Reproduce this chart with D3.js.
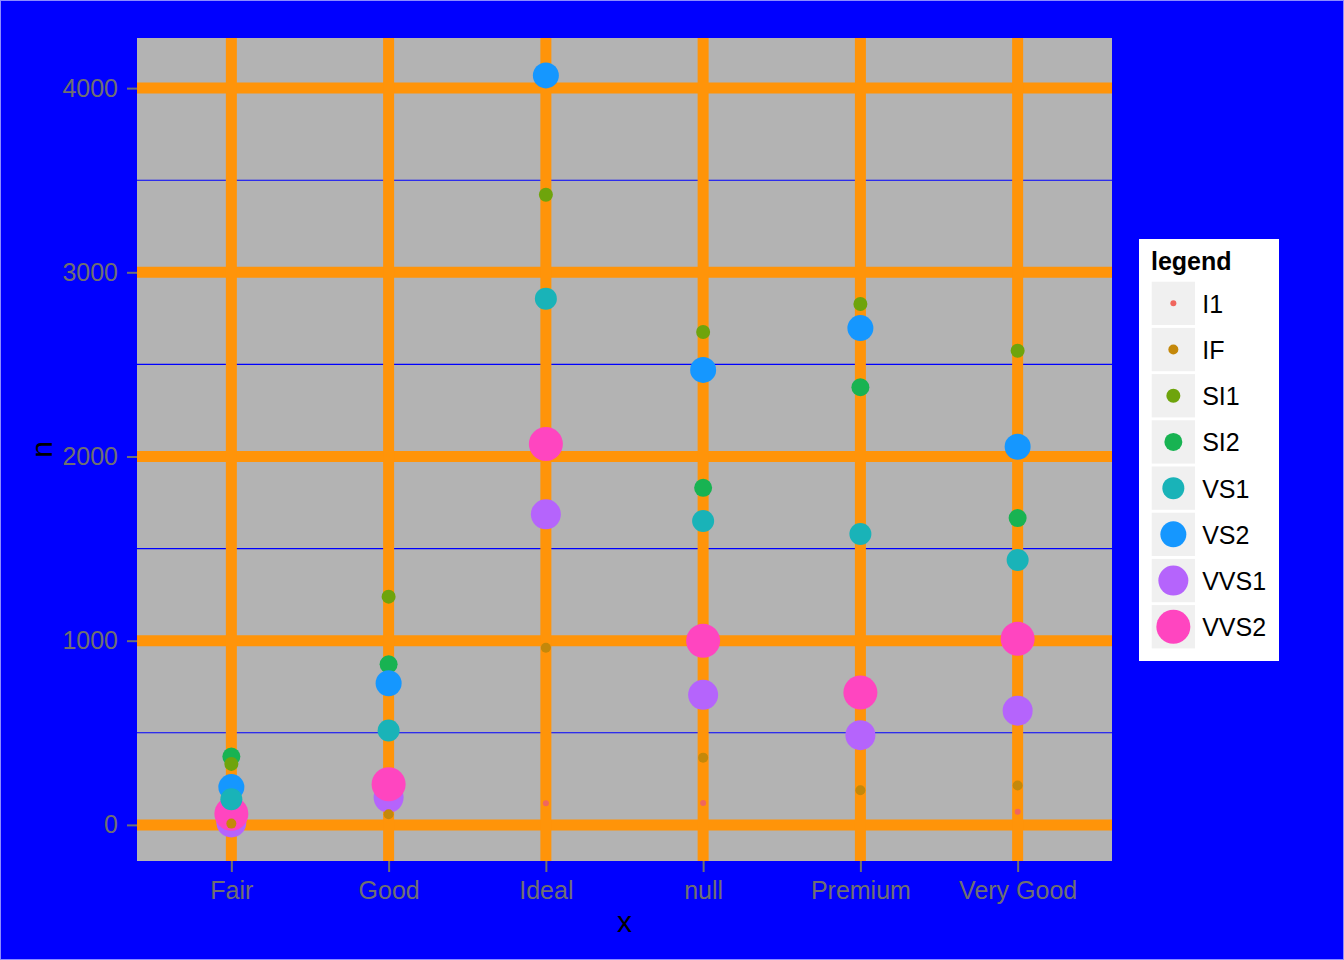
<!DOCTYPE html>
<html>
<head>
<meta charset="utf-8">
<script src="https://cdn.jsdelivr.net/npm/d3@7"></script>
<style>
  html, body { margin: 0; padding: 0; background: #0000ff; }
  svg { display: block; }
  text { font-family: "Liberation Sans", Arial, Helvetica, sans-serif; }
</style>
</head>
<body>
<svg id="chart" width="1344" height="960"></svg>
<script>
// ---- data ----
const cuts = ["Fair", "Good", "Ideal", "null", "Premium", "Very Good"];
const clarities = ["I1", "IF", "SI1", "SI2", "VS1", "VS2", "VVS1", "VVS2"];
// counts per cut (same order as cuts)
const nI1   = [168,   77,  118,  119,  180,   71];
const nIF   = [  7,   58,  962,  365,  188,  214];
const nSI1  = [331, 1239, 3421, 2676, 2828, 2574];
const nSI2  = [371,  872, 2078, 1830, 2376, 1666];
const nVS1  = [139,  512, 2857, 1650, 1579, 1438];
const nVS2  = [205,  769, 4069, 2470, 2697, 2053];
const nVVS1 = [ 13,  148, 1686,  706,  487,  620];
const nVVS2 = [ 60,  221, 2068,  999,  719, 1010];
const yTicks = [0, 1000, 2000, 3000, 4000];
const yMinorTicks = [500, 1500, 2500, 3500];
const drawOrder = ["I1", "SI2", "SI1", "VS2", "VVS1", "VVS2", "VS1", "IF"];
const colours = ["#f0665e", "#c4880a", "#6ea40c", "#18b352", "#19b3b8", "#1597ff", "#b564fc", "#ff45c0"];

const seriesByClarity = {I1: nI1, IF: nIF, SI1: nSI1, SI2: nSI2, VS1: nVS1, VS2: nVS2, VVS1: nVVS1, VVS2: nVVS2};
const rows = [];
drawOrder.forEach(c => cuts.forEach((cut, i) => rows.push({cut, clarity: c, n: seriesByClarity[c][i]})));

// ---- layout ----
const W = 1344, H = 960;
const P = {left: 137, right: 1112, top: 38, bottom: 861};
const svg = d3.select("#chart");

svg.append("rect").attr("x", 0.5).attr("y", 0.5).attr("width", W - 1).attr("height", H - 1)
  .attr("fill", "#0000ff").attr("stroke", "#8c8cff").attr("stroke-width", 1);

const x = d3.scalePoint().domain(cuts).range([P.left, P.right]).padding(0.6);
const allN = rows.map(d => d.n);
const lo = d3.min(allN), hi = d3.max(allN), span = hi - lo;
const y = d3.scaleLinear().domain([lo - 0.05 * span, hi + 0.05 * span]).range([P.bottom, P.top]);
const colour = d3.scaleOrdinal().domain(clarities).range(colours);
const radius = d3.scalePoint().domain(clarities).range([3, 17]);

// panel
svg.append("defs").append("clipPath").attr("id", "clip")
  .append("rect").attr("x", P.left).attr("y", P.top).attr("width", P.right - P.left).attr("height", P.bottom - P.top);
svg.append("rect").attr("x", P.left).attr("y", P.top).attr("width", P.right - P.left).attr("height", P.bottom - P.top)
  .attr("fill", "#b3b3b3");

const grid = svg.append("g").attr("clip-path", "url(#clip)");
grid.selectAll("line.minor").data(yMinorTicks).join("line").attr("class", "minor")
  .attr("x1", P.left).attr("x2", P.right).attr("y1", d => y(d)).attr("y2", d => y(d))
  .attr("stroke", "#0000ff").attr("stroke-width", 1.1);
grid.selectAll("line.majy").data(yTicks).join("line").attr("class", "majy")
  .attr("x1", P.left).attr("x2", P.right).attr("y1", d => y(d)).attr("y2", d => y(d))
  .attr("stroke", "#ff9409").attr("stroke-width", 11);
grid.selectAll("line.majx").data(cuts).join("line").attr("class", "majx")
  .attr("x1", d => x(d)).attr("x2", d => x(d)).attr("y1", P.top).attr("y2", P.bottom)
  .attr("stroke", "#ff9409").attr("stroke-width", 11);

// points
svg.append("g").attr("clip-path", "url(#clip)").selectAll("circle").data(rows).join("circle")
  .attr("cx", d => x(d.cut)).attr("cy", d => y(d.n)).attr("r", d => radius(d.clarity))
  .attr("fill", d => colour(d.clarity));

// axes
const tickCol = "#707070";
const yAxis = svg.append("g").attr("transform", `translate(${P.left},0)`)
  .call(d3.axisLeft(y).tickValues(yTicks).tickSize(10).tickPadding(9).tickFormat(d3.format("d")));
const xAxis = svg.append("g").attr("transform", `translate(0,${P.bottom})`)
  .call(d3.axisBottom(x).tickSize(11).tickPadding(9));
[yAxis, xAxis].forEach(a => {
  a.select(".domain").remove();
  a.selectAll(".tick line").attr("stroke", tickCol).attr("stroke-width", 2);
  a.selectAll(".tick text").attr("fill", tickCol).attr("font-size", 25)
    .attr("font-family", "Liberation Sans, Arial, sans-serif");
});

svg.append("text").attr("x", (P.left + P.right) / 2).attr("y", 932).attr("text-anchor", "middle")
  .attr("font-size", 30).attr("fill", "#000").text("x");
svg.append("text").attr("transform", `translate(52,${(P.top + P.bottom) / 2}) rotate(-90)`)
  .attr("text-anchor", "middle").attr("font-size", 30).attr("fill", "#000").text("n");

// legend
const L = {x: 1139, y: 239, w: 140, h: 422};
const lg = svg.append("g");
lg.append("rect").attr("x", L.x).attr("y", L.y).attr("width", L.w).attr("height", L.h).attr("fill", "#ffffff");
lg.append("text").attr("x", 1151).attr("y", 270).attr("font-size", 25).attr("font-weight", "bold")
  .attr("fill", "#000").text("legend");
const keyTop = 281.7, keyPitch = 46.2, keySize = 43.3, keyX = 1151.7;
const items = lg.selectAll("g.item").data(clarities).join("g").attr("class", "item")
  .attr("transform", (d, i) => `translate(${keyX},${keyTop + i * keyPitch})`);
items.append("rect").attr("width", keySize).attr("height", keySize).attr("fill", "#f0f0f0");
items.append("circle").attr("cx", keySize / 2).attr("cy", keySize / 2).attr("r", d => radius(d))
  .attr("fill", d => colour(d));
items.append("text").attr("x", 50.5).attr("y", keySize / 2 + 0.5).attr("dy", "0.36em")
  .attr("font-size", 25).attr("fill", "#000").text(d => d);
</script>
</body>
</html>
